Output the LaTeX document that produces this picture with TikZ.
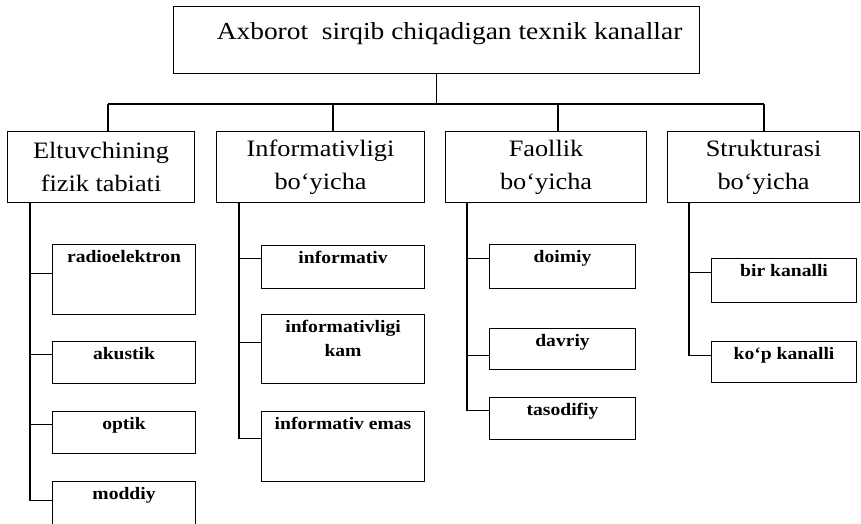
\documentclass[tikz,border=0pt]{standalone}
\usepackage{fontspec}
\setmainfont{Liberation Serif}[FakeStretch=1.12]
\begin{document}
\begin{tikzpicture}[x=1pt,y=-1pt,
  box/.style={draw,line width=1.1pt,rectangle,inner sep=0pt,anchor=north west},
  lvl/.style={box,minimum height=71pt,font=\fontsize{23.5}{33}\selectfont,align=center},
  leaf/.style={box},
  lab/.style={anchor=north,inner sep=1pt,yshift=-5pt,font=\fontsize{17.5}{24}\selectfont\bfseries,align=center},
  wire/.style={line width=1.1pt}]
\useasboundingbox[fill=white] (0,0) rectangle (861,523);

% root
\node[box,minimum width=526pt,minimum height=67pt,
  label={[anchor=north,inner sep=0pt,xshift=13pt,yshift=-16pt,font=\fontsize{24.5}{30}\selectfont]north:Axborot\ \ sirqib chiqadigan texnik kanallar}]
  (root) at (173,6) {};

% level 2
\node[lvl,minimum width=187pt] (b1) at (7,131) {Eltuvchining\\fizik tabiati};
\node[lvl,minimum width=208pt] (b2) at (216,131) {Informativligi\\bo‘yicha};
\node[lvl,minimum width=201pt] (b3) at (445,131) {Faollik\\bo‘yicha};
\node[lvl,minimum width=192pt] (b4) at (667,131) {Strukturasi\\bo‘yicha};

% bus
\coordinate (busL) at (108,104);
\coordinate (bus2) at (333,104);
\coordinate (bus3) at (558,104);
\coordinate (busR) at (764,104);
\draw[wire] (root.south) -- (root.south |- busL);
\draw[wire] (busL) -- (busR);
\draw[wire] (busL) -- (busL |- b1.north);
\draw[wire] (bus2) -- (bus2 |- b2.north);
\draw[wire] (bus3) -- (bus3 |- b3.north);
\draw[wire] (busR) -- (busR |- b4.north);

% leaves column 1
\node[leaf,minimum width=143pt,minimum height=70pt,label={[lab]north:radioelektron}] (r1) at (52,244) {};
\node[leaf,minimum width=143pt,minimum height=42pt,label={[lab]north:akustik}] (r2) at (52,341) {};
\node[leaf,minimum width=143pt,minimum height=42pt,label={[lab]north:optik}] (r3) at (52,411) {};
\node[leaf,minimum width=143pt,minimum height=46pt,label={[lab]north:moddiy}] (r4) at (52,481) {};

% leaves column 2
\node[leaf,minimum width=163pt,minimum height=43pt,label={[lab]north:informativ}] (i1) at (261,245) {};
\node[leaf,minimum width=163pt,minimum height=69pt,label={[lab]north:informativligi\\kam}] (i2) at (261,314) {};
\node[leaf,minimum width=163pt,minimum height=70pt,label={[lab]north:informativ emas}] (i3) at (261,411) {};

% leaves column 3
\node[leaf,minimum width=146pt,minimum height=44pt,label={[lab]north:doimiy}] (f1) at (489,244) {};
\node[leaf,minimum width=146pt,minimum height=41pt,label={[lab]north:davriy}] (f2) at (489,328) {};
\node[leaf,minimum width=146pt,minimum height=42pt,label={[lab]north:tasodifiy}] (f3) at (489,397) {};

% leaves column 4
\node[leaf,minimum width=145pt,minimum height=44pt,label={[lab]north:bir kanalli}] (s1) at (711,258) {};
\node[leaf,minimum width=145pt,minimum height=41pt,label={[lab]north:ko‘p kanalli}] (s2) at (711,341) {};

% stems
\coordinate (st1) at ([xshift=23pt]b1.south west);
\coordinate (st2) at ([xshift=23pt]b2.south west);
\coordinate (st3) at ([xshift=22pt]b3.south west);
\coordinate (st4) at ([xshift=22pt]b4.south west);

\draw[wire] (st1) |- ([yshift=4pt]r4.west);
\draw[wire] ([yshift=6pt]r1.west) -- ([yshift=6pt]r1.west -| st1);
\draw[wire] ([yshift=8pt]r2.west) -- ([yshift=8pt]r2.west -| st1);
\draw[wire] ([yshift=8pt]r3.west) -- ([yshift=8pt]r3.west -| st1);

\draw[wire] (st2) |- ([yshift=8pt]i3.west);
\draw[wire] ([yshift=8.5pt]i1.west) -- ([yshift=8.5pt]i1.west -| st2);
\draw[wire] ([yshift=6.5pt]i2.west) -- ([yshift=6.5pt]i2.west -| st2);

\draw[wire] (st3) |- ([yshift=8pt]f3.west);
\draw[wire] ([yshift=8pt]f1.west) -- ([yshift=8pt]f1.west -| st3);
\draw[wire] ([yshift=-6.5pt]f2.west) -- ([yshift=-6.5pt]f2.west -| st3);

\draw[wire] (st4) |- ([yshift=6.5pt]s2.west);
\draw[wire] ([yshift=8pt]s1.west) -- ([yshift=8pt]s1.west -| st4);
\end{tikzpicture}
\end{document}
